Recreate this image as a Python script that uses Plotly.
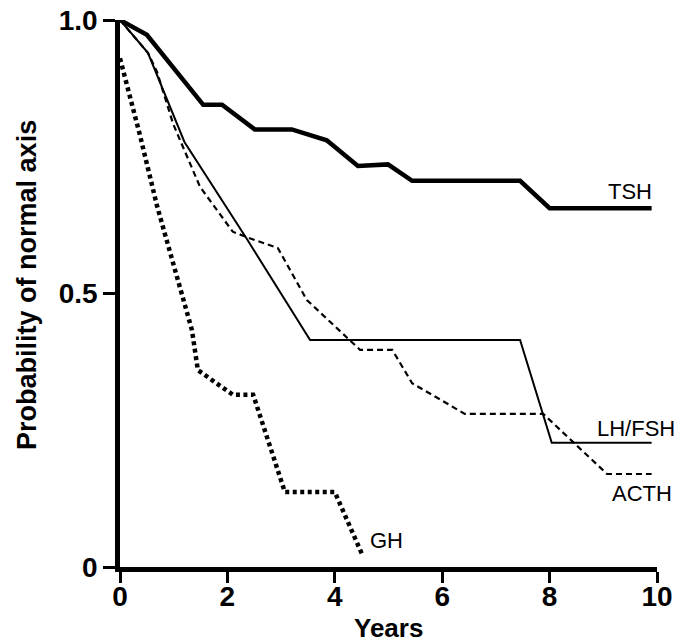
import plotly.graph_objects as go

# Years / probability of normal axis
tsh_x = [0, 0.5, 1.55, 1.9, 2.51, 3.2, 3.85, 4.43, 4.99, 5.44, 7.45, 8.0, 9.9]
tsh_y = [1.0, 0.973, 0.845, 0.845, 0.80, 0.80, 0.78, 0.733, 0.736, 0.706, 0.706, 0.656, 0.656]

lh_x = [0, 0.52, 1.2, 2.36, 3.54, 7.45, 8.04, 9.9]
lh_y = [1.0, 0.94, 0.777, 0.60, 0.415, 0.415, 0.227, 0.227]

acth_x = [0, 0.52, 0.69, 0.99, 1.49, 2.1, 2.36, 2.94, 3.48, 4.28, 4.47, 5.07, 5.44, 6.42, 7.88, 9.07, 9.9]
acth_y = [1.0, 0.94, 0.905, 0.81, 0.695, 0.613, 0.603, 0.583, 0.488, 0.415, 0.397, 0.397, 0.336, 0.28, 0.28, 0.17, 0.17]

gh_x = [0, 0.37, 0.69, 1.06, 1.34, 1.45, 1.86, 2.1, 2.48, 3.07, 4.0, 4.5]
gh_y = [0.93, 0.79, 0.66, 0.53, 0.433, 0.36, 0.33, 0.315, 0.315, 0.137, 0.137, 0.025]

labels = ["TSH", "LH/FSH", "ACTH", "GH"]
label_x = [9.5, 9.61, 9.72, 4.97]
label_y = [0.686, 0.254, 0.135, 0.048]

x_ticks = [0, 2, 4, 6, 8, 10]
y_ticks = [0, 0.5, 1.0]
y_ticktext = ["0", "0.5", "1.0"]

FONT = "Liberation Sans, Arial, Helvetica, sans-serif"

fig = go.Figure()
fig.add_trace(go.Scatter(x=tsh_x, y=tsh_y, mode="lines", name="TSH",
                         line=dict(color="black", width=4.5)))
fig.add_trace(go.Scatter(x=lh_x, y=lh_y, mode="lines", name="LH/FSH",
                         line=dict(color="black", width=2)))
fig.add_trace(go.Scatter(x=acth_x, y=acth_y, mode="lines", name="ACTH",
                         line=dict(color="black", width=2.2, dash="6px,4px")))
fig.add_trace(go.Scatter(x=gh_x, y=gh_y, mode="lines", name="GH",
                         line=dict(color="black", width=4.5, dash="4px,3.5px")))

for t, lx, ly in zip(labels, label_x, label_y):
    fig.add_annotation(x=lx, y=ly, text=t, showarrow=False,
                       xanchor="center", yanchor="middle",
                       font=dict(family=FONT, size=22, color="black"))

fig.add_annotation(x=0.5, y=-0.112, xref="paper", yref="paper", text="<b>Years</b>",
                   showarrow=False, xanchor="center", yanchor="middle",
                   font=dict(family=FONT, size=26, color="black"))
fig.add_annotation(x=-0.172, y=0.515, xref="paper", yref="paper",
                   text="<b>Probability of normal axis</b>", textangle=-90,
                   showarrow=False, xanchor="center", yanchor="middle",
                   font=dict(family=FONT, size=27, color="black"))

fig.update_xaxes(range=[0, 10], tickvals=x_ticks, ticks="outside", ticklen=11,
                 tickwidth=2.5, tickcolor="black", showline=True, linewidth=4.5,
                 linecolor="black", showgrid=False, zeroline=False, automargin=False,
                 ticklabeloverflow="allow", ticklabelstandoff=-10,
                 tickfont=dict(family=FONT, size=28, color="black", weight="bold"))
fig.update_yaxes(range=[0, 1], tickvals=y_ticks, ticktext=y_ticktext, ticks="outside",
                 ticklen=12, tickwidth=2.5, tickcolor="black", showline=True,
                 linewidth=4.5, linecolor="black", showgrid=False, zeroline=False,
                 automargin=False, ticklabeloverflow="allow",
                 tickfont=dict(family=FONT, size=28, color="black", weight="bold"))

fig.update_layout(width=686, height=635, margin=dict(l=112, r=37, t=12, b=76),
                  plot_bgcolor="white", paper_bgcolor="white", showlegend=False)

fig.write_html("out.html")
